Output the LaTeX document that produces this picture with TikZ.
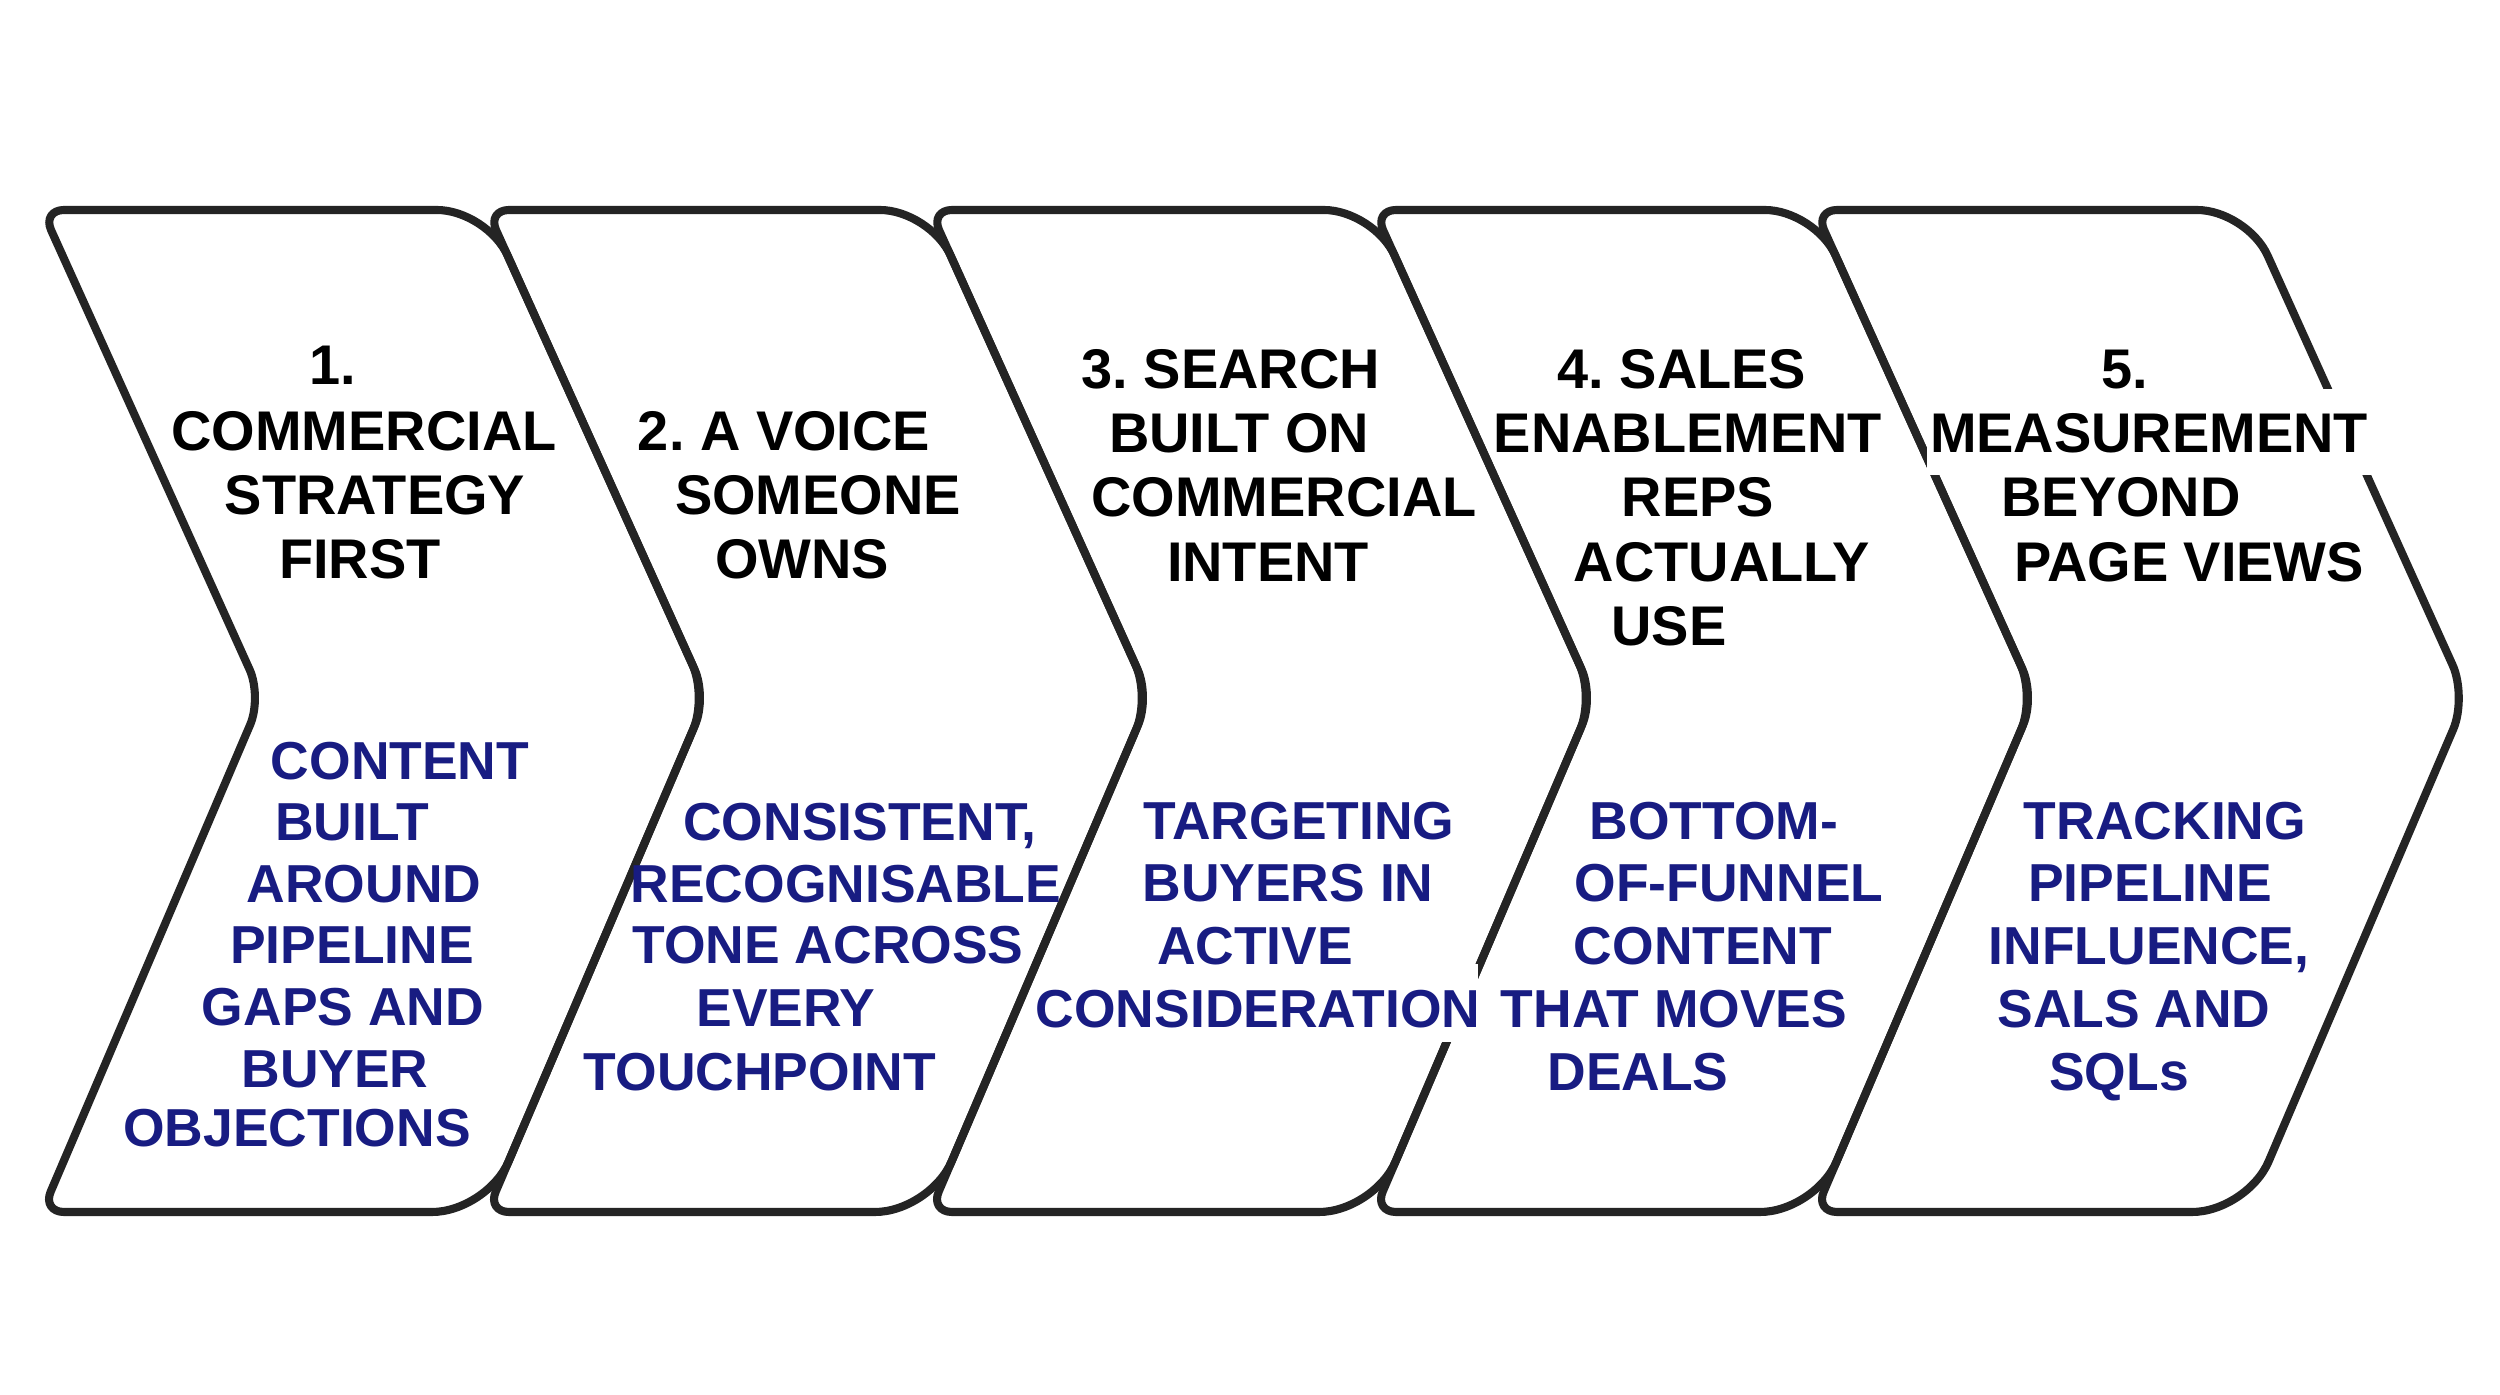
\documentclass[tikz,border=0pt]{standalone}
\usepackage{fontspec}
\setmainfont{Liberation Sans}
\frenchspacing
\definecolor{navy}{RGB}{24,28,130}
\definecolor{ink}{RGB}{36,36,36}

\begin{document}
\begin{tikzpicture}[x=0.01cm, y=-0.01cm,
	chev/.style={draw=ink, line width=2.3pt, line join=round, rounded corners=0.5cm},
	title/.style={font=\fontsize{15.9}{18}\selectfont\bfseries, text=black, inner sep=0pt, text height=11.4pt, text depth=0pt},
	desc/.style={font=\fontsize{15.2}{17}\selectfont\bfseries, text=navy, inner sep=0pt, text height=10.9pt, text depth=0pt},
	knock/.style={fill=white, inner xsep=1pt, inner ysep=6.5pt},
	gap/.style={fill=white}]
	\useasboundingbox (0,0) rectangle (2500,1395);
	\fill[white] (0,0) rectangle (2500,1395);
	\foreach \nx/\tx in {262/707, 707/1150, 1150/1594, 1594/2035, 2035/2467}
		\draw[chev] (\nx,210) -- (\tx-220,210) [rounded corners=0.35cm] -- (\tx,697) [rounded corners=0.55cm] -- (\tx-220,1212) [rounded corners=0.22cm] -- (\nx-220,1212) [rounded corners=0.3cm] -- (\nx,697) [rounded corners=0.22cm] -- (\nx-220,210) [rounded corners=0.5cm] -- cycle;
	\fill[gap] (1422,964) rectangle (1478,1042);
	\foreach \x/\y/\txt [count=\i] in {333/364/1., 364/430/COMMERCIAL, 375/494/STRATEGY, 360/558/FIRST,
		784/430/2. A VOICE, 818/494/SOMEONE, 802/558/OWNS,
		1231/368/3. SEARCH, 1239/432/BUILT ON, 1284/496/COMMERCIAL, 1268/561/INTENT,
		1682/368/4. SALES, 1688/432/ENABLEMENT, 1698/496/REPS, 1722/561/ACTUALLY, 1669/625/USE,
		2125/368/5., 2121/496/BEYOND, 2189/561/PAGE VIEWS}
		\node[title] (t\i) at (\x,\y) {\txt};
	\node[title, knock] (tm) at (2149,432) {MEASUREMENT};
	\foreach \x/\y/\txt [count=\i] in {400/760/CONTENT, 352/821/BUILT, 364/883/AROUND, 352/944/PIPELINE, 343/1006/GAPS AND, 335/1068/BUYER, 297/1127/OBJECTIONS,
		860/821/{CONSISTENT,}, 846/883/RECOGNISABLE, 828/944/TONE ACROSS, 786/1007/EVERY, 760/1071/TOUCHPOINT,
		1299/820/TARGETING, 1288/882/BUYERS IN, 1255/945/ACTIVE, 1258/1008/CONSIDERATION}
		\node[desc] (d\i) at (\x,\y) {\txt};
	\foreach \x/\y/\txt [count=\i] in {1714/820/BOTTOM-, 1729/882/OF-FUNNEL, 1703/945/CONTENT, 1674/1008/THAT MOVES, 1638/1071/DEALS,
		2165/820/TRACKING, 2150/882/PIPELINE, 2149/945/{INFLUENCE,}, 2134/1008/SALS AND, 2119/1071/SQLs}
		\node[desc] (e\i) at (\x,\y) {\txt};
\end{tikzpicture}
\end{document}
